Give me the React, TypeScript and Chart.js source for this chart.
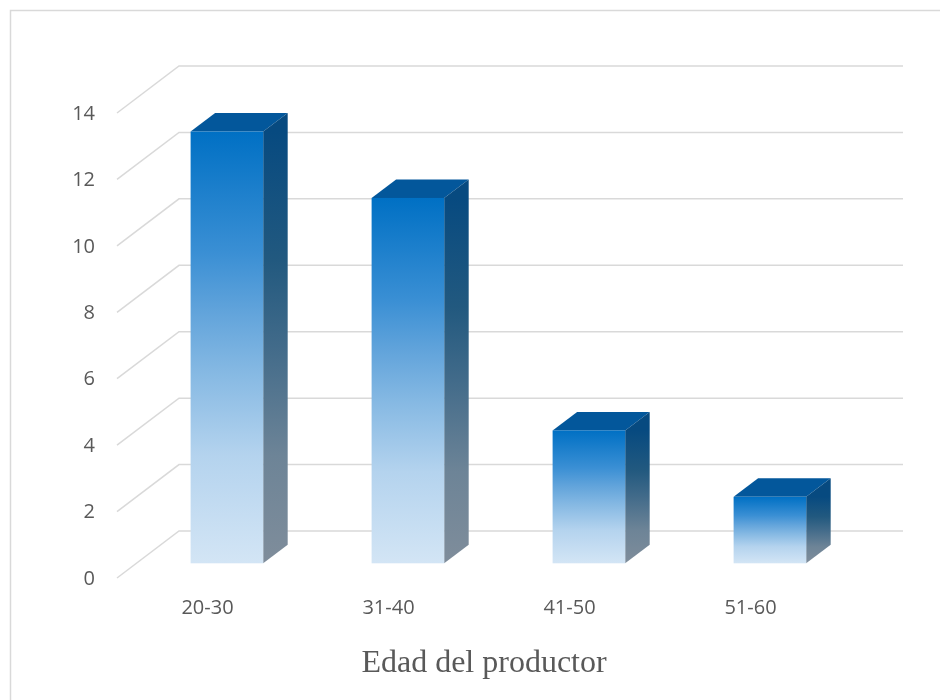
import { useEffect, useRef } from "react";
import { Chart, registerables } from "chart.js";

Chart.register(...registerables);

// Data
const categories = ["20-30", "31-40", "41-50", "51-60"];
const counts = [13, 11, 4, 2];
const yTickValues = [0, 2, 4, 6, 8, 10, 12, 14];
const axisTitle = "Edad del productor";

// Oblique projection offsets, measured from the bars' front plane
const WALL = { dx: 42.6, dy: -32.3 }; // back wall
const FLOOR = { dx: -19.4, dy: 14.7 }; // front edge of the floor
const DEPTH = { dx: 24.5, dy: -18.5 }; // bar depth

const GRID = "#d9d9d9";
const TEXT = "#595959";

const box3d = {
  id: "box3d",
  beforeDraw(chart: any) {
    const { ctx } = chart;
    ctx.save();
    ctx.fillStyle = "#ffffff";
    ctx.fillRect(0, 0, chart.width, chart.height);
    // outer frame
    ctx.strokeStyle = GRID;
    ctx.lineWidth = 1.5;
    ctx.beginPath();
    ctx.moveTo(10.5, chart.height + 5);
    ctx.lineTo(10.5, 10.5);
    ctx.lineTo(chart.width + 5, 10.5);
    ctx.stroke();
    ctx.restore();
  },
  beforeDatasetsDraw(chart: any) {
    const { ctx, chartArea, scales } = chart;
    const y = scales.y;
    ctx.save();
    ctx.strokeStyle = GRID;
    ctx.lineWidth = 1.5;
    for (const v of yTickValues) {
      const py = y.getPixelForValue(v);
      ctx.beginPath();
      ctx.moveTo(chartArea.left + FLOOR.dx, py + FLOOR.dy);
      ctx.lineTo(chartArea.left + WALL.dx, py + WALL.dy);
      ctx.lineTo(chartArea.right + WALL.dx, py + WALL.dy);
      ctx.stroke();
    }
    ctx.restore();
  },
  afterDatasetsDraw(chart: any) {
    const { ctx } = chart;
    const meta = chart.getDatasetMeta(0);
    ctx.save();
    meta.data.forEach((bar: any) => {
      const p = bar.getProps(["x", "y", "base", "width"], true);
      const l = p.x - p.width / 2;
      const r = p.x + p.width / 2;
      const top = p.y;
      const base = p.base;

      // top face
      ctx.fillStyle = "#03579b";
      ctx.beginPath();
      ctx.moveTo(l, top);
      ctx.lineTo(r, top);
      ctx.lineTo(r + DEPTH.dx, top + DEPTH.dy);
      ctx.lineTo(l + DEPTH.dx, top + DEPTH.dy);
      ctx.closePath();
      ctx.fill();

      // side face
      const sg = ctx.createLinearGradient(0, top, 0, base);
      sg.addColorStop(0, "#074a80");
      sg.addColorStop(0.3, "#22597f");
      sg.addColorStop(0.5, "#426b8a");
      sg.addColorStop(0.75, "#6d8497");
      sg.addColorStop(1, "#7f8d9b");
      ctx.fillStyle = sg;
      ctx.beginPath();
      ctx.moveTo(r, top);
      ctx.lineTo(r + DEPTH.dx, top + DEPTH.dy);
      ctx.lineTo(r + DEPTH.dx, base + DEPTH.dy);
      ctx.lineTo(r, base);
      ctx.closePath();
      ctx.fill();

      // front face
      const fg = ctx.createLinearGradient(0, top, 0, base);
      fg.addColorStop(0, "#0070c4");
      fg.addColorStop(0.28, "#3a8fd4");
      fg.addColorStop(0.42, "#62a4db");
      fg.addColorStop(0.56, "#86b9e3");
      fg.addColorStop(0.75, "#b4d3ee");
      fg.addColorStop(1, "#d3e5f5");
      ctx.fillStyle = fg;
      ctx.fillRect(l, top, r - l, base - top);
    });
    ctx.restore();
  },
  afterDraw(chart: any) {
    const { ctx, chartArea, scales } = chart;
    const x = scales.x;
    const y = scales.y;
    ctx.save();
    ctx.fillStyle = TEXT;

    // value axis labels
    ctx.font = "20px 'Open Sans'";
    ctx.textAlign = "right";
    ctx.textBaseline = "middle";
    for (const v of yTickValues) {
      ctx.fillText(String(v), chartArea.left + FLOOR.dx - 22, y.getPixelForValue(v) + FLOOR.dy + 1);
    }

    // category labels
    ctx.textAlign = "center";
    const y0 = y.getPixelForValue(0) + FLOOR.dy;
    categories.forEach((c, i) => {
      ctx.fillText(c, x.getPixelForValue(i) + FLOOR.dx, y0 + 30);
    });

    // axis title
    ctx.font = "32px 'Liberation Serif'";
    ctx.textBaseline = "alphabetic";
    ctx.fillText(axisTitle, (chartArea.left + chartArea.right) / 2 + FLOOR.dx + 5, y0 + 94);
    ctx.restore();
  },
};

export default function App() {
  const ref = useRef<HTMLCanvasElement | null>(null);

  useEffect(() => {
    document.body.style.margin = "0";
    const canvas = ref.current;
    if (!canvas) return;
    const chart = new Chart(canvas, {
      type: "bar",
      data: {
        labels: categories,
        datasets: [
          {
            data: counts,
            backgroundColor: "rgba(0,0,0,0)",
            borderWidth: 0,
            categoryPercentage: 1,
            barPercentage: 0.401,
          },
        ],
      },
      options: {
        animation: false,
        responsive: false,
        events: [],
        layout: { padding: { left: 136.4, right: 79.6, top: 98.3, bottom: 136.7 } },
        plugins: { legend: { display: false }, tooltip: { enabled: false }, title: { display: false } },
        scales: {
          x: { display: false, offset: true },
          y: { display: false, min: 0, max: 14, ticks: { stepSize: 2 } },
        },
      },
      plugins: [box3d],
    });
    return () => chart.destroy();
  }, []);

  return (
    <div style={{ width: 940, height: 700 }}>
      <canvas ref={ref} width={940} height={700} style={{ display: "block" }} />
    </div>
  );
}
